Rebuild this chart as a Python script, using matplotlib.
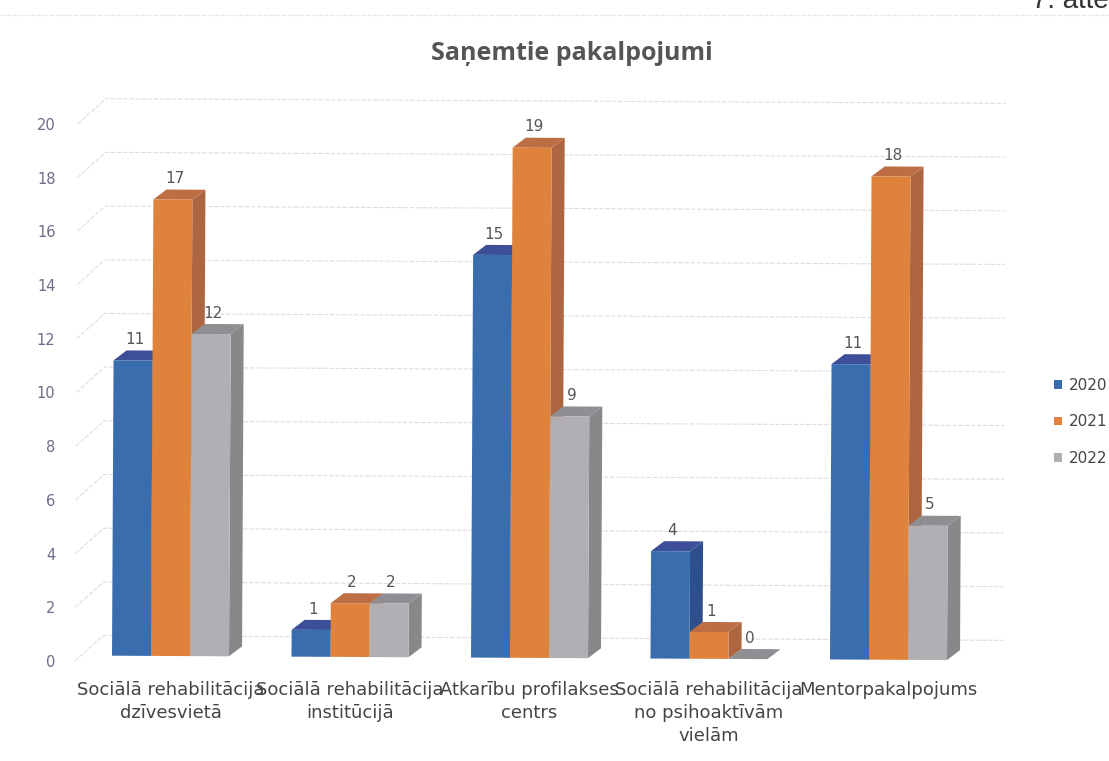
import matplotlib
matplotlib.use("Agg")
import matplotlib.pyplot as plt
from matplotlib.transforms import Affine2D, ScaledTranslation

categories = ["Sociālā rehabilitācija\ndzīvesvietā", "Sociālā rehabilitācija\ninstitūcijā",
              "Atkarību profilakses\ncentrs", "Sociālā rehabilitācija\nno psihoaktīvām\nvielām",
              "Mentorpakalpojums"]
years = ["2020", "2021", "2022"]
v2020 = [11, 1, 15, 4, 11]
v2021 = [17, 2, 19, 1, 18]
v2022 = [12, 2, 9, 0, 5]
yticks = list(range(0, 21, 2))

front = ["#3a6dae", "#df823c", "#b1afb4"]
side = ["#2d4f8c", "#ad6640", "#88888b"]
top = ["#3c4f98", "#bd6e45", "#8f8f93"]

W, H = 1109, 761
fig = plt.figure(figsize=(W / 100, H / 100), dpi=100)

# front plane of the chart, in pixels of the picture
left, right, base, upper = 75, 1003, 656, 90
ax = fig.add_axes([left / W, 1 - base / H, (right - left) / W, (base - upper) / H])
px_x = 179.5
px_y = 26.85
ax.set_xlim((left - 170.5) / px_x, (right - 170.5) / px_x)
ax.set_ylim(0, (base - upper) / px_y)

# scanned page is slightly rotated
tf = ax.transData + Affine2D().rotate_deg_around(170, H - base, -0.3)

width = 39 / px_x
dx = 13 / px_x
dy = 10 / px_y

# floor and back wall grid
gx = 28 / px_x
gy = 20 / px_y
x0, x1 = ax.get_xlim()
for v in yticks:
    ax.plot([x0, x0 + gx, x1], [v - 0.2, v + gy, v + gy], color="#e2dae4", lw=0.8,
            ls=(0, (4, 1.5)), transform=tf, clip_on=False, zorder=1)

for s, vals in enumerate([v2020, v2021, v2022]):
    xs = [i + (s - 1) * width for i in range(len(categories))]
    bars = ax.bar(xs, vals, width=width, color=front[s], label=years[s], zorder=3 + s * 2 + 1)
    for b in bars:
        b.set_transform(tf)
        b.set_clip_on(False)
    for x, v in zip(xs, vals):
        l = x - width / 2
        r = x + width / 2
        ax.fill([r, r + dx, r + dx, r], [0, dy, v + dy, v], color=side[s], lw=0, transform=tf,
                clip_on=False, zorder=3 + s * 2)
        ax.fill([l, l + dx, r + dx, r], [v, v + dy, v + dy, v], color=top[s], lw=0, transform=tf,
                clip_on=False, zorder=3 + s * 2)
        ax.annotate(str(v), (x, v), xycoords=tf, xytext=(1.2, 15), textcoords="offset points",
                    ha="center", va="center", fontsize=11, color="#555555", zorder=20)

ax.set_xticks(range(len(categories)))
ax.set_xticklabels(categories, fontsize=13, color="#444444", linespacing=1.36)
ax.set_yticks(yticks)
ax.set_yticklabels([str(v) for v in yticks], fontsize=10.5, color="#6d6c88")
ax.tick_params(axis="x", length=0, pad=18)
ax.tick_params(axis="y", length=0, pad=14)
shift = ScaledTranslation(0, -5 / 100, fig.dpi_scale_trans)
for lab in ax.get_yticklabels():
    lab.set_transform(lab.get_transform() + shift)
for sp in ax.spines.values():
    sp.set_visible(False)
ax.patch.set_alpha(0)

fig.text(572 / W, 1 - 53 / H, "Saņemtie pakalpojumi", fontsize=18, fontweight="bold", family="Open Sans",
         color="#555555", ha="center", va="center")
fig.text(1032 / W, 1 - 8 / H, "7. attēls", fontsize=20, family="Liberation Sans", color="#333333",
         ha="left", va="baseline")
fig.add_artist(plt.Line2D([0, 1], [1 - 15 / H, 1 - 15 / H], color="#e9e5ec", lw=0.8, ls=(0, (4, 1.5))))

h, l = ax.get_legend_handles_labels()
fig.legend(h, l, loc="upper left", bbox_to_anchor=(1054 / W, 1 - 378 / H), frameon=False, fontsize=11,
           labelcolor="#444444", handlelength=0.5, handleheight=0.5, handletextpad=0.45,
           labelspacing=1.4, borderpad=0, borderaxespad=0)

fig.savefig("out.png", dpi=100)
